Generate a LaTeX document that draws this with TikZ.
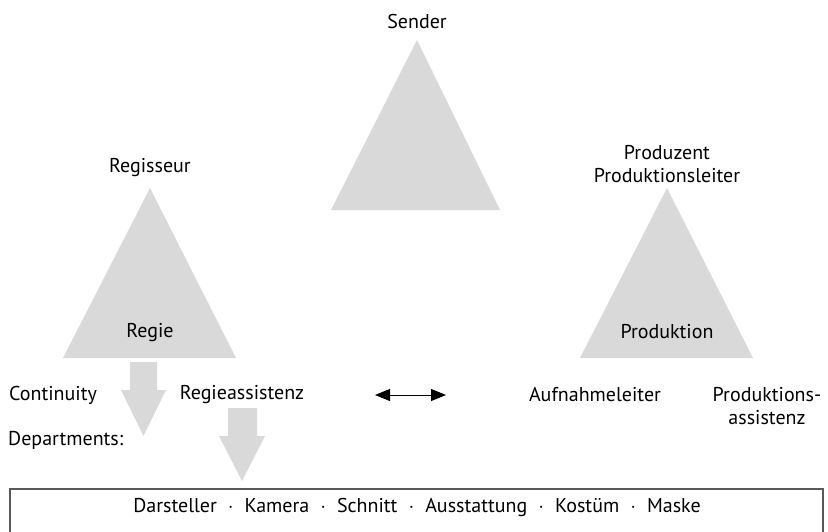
\documentclass[tikz,border=0pt]{standalone}
\usepackage{fontspec}
\setmainfont{PT Sans}
\usetikzlibrary{arrows.meta}
\definecolor{tri}{HTML}{D9D9D9}
\definecolor{boxline}{HTML}{5A5A5A}
\newcommand{\sepdot}{\hspace{11pt}$\cdot$\hspace{11pt}}
\begin{document}
\begin{tikzpicture}[x=1pt,y=-1pt,
  lbl/.style={inner sep=0pt,font=\fontsize{20}{23}\selectfont,align=center}]
\useasboundingbox (0,0) rectangle (828,531);
% triangles
\fill[tri] (417,40) -- (500,210) -- (331,210) -- cycle;
\fill[tri] (150,188) -- (236,358) -- (63,358) -- cycle;
\fill[tri] (667,188) -- (753,358) -- (580,358) -- cycle;
% labels
\node[lbl] (sender) at (417,21) {Sender};
\node[lbl] (regisseur) at (150,168) {Regisseur};
\node[lbl] (regie) at (150,333) {Regie};
\node[lbl] (produzent) at (667,164) {Produzent\\Produktionsleiter};
\node[lbl] (produktion) at (667,332) {Produktion};
\node[lbl] (continuity) at (53,395) {Continuity};
\node[lbl] (regieass) at (242,395) {Regieassistenz};
\node[lbl] (aufnahme) at (595,395) {Aufnahmeleiter};
\node[lbl] (prodass) at (767,406) {Produktions-\\assistenz};
\node[lbl,anchor=west] (departments) at (8,440) {Departments:};
% block arrows
\fill[tri] (130,362) -- (157,362) -- (157,390) -- (166,390) -- (143.5,436) -- (121,390) -- (130,390) -- cycle;
\fill[tri] (228,408) -- (257,408) -- (257,436) -- (265,436) -- (242,481) -- (219,436) -- (228,436) -- cycle;
% double arrow
\coordinate (la) at (375,395);
\coordinate (ra) at (446,395);
\draw[line width=0.9pt,{Triangle[length=15pt,width=12pt]}-{Triangle[length=15pt,width=12pt]}] (la) -- (ra);
% departments box
\draw[boxline,line width=1.5pt] (10,540) -- (10,489) -- (823,489) -- (823,540);
\node[lbl] (dept) at (417,507)
 {Darsteller\sepdot Kamera\sepdot Schnitt\sepdot Ausstattung\sepdot Kostüm\sepdot Maske};
\end{tikzpicture}
\end{document}
